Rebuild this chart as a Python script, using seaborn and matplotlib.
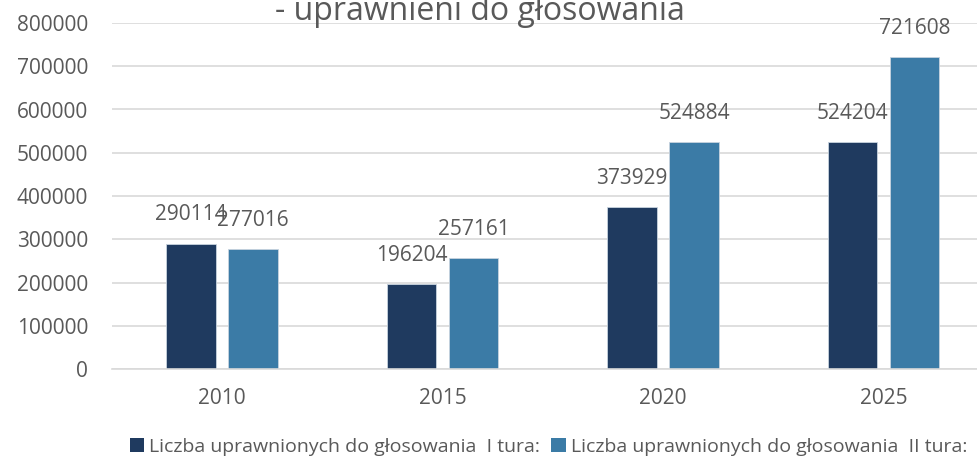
import matplotlib
matplotlib.use("Agg")
import matplotlib.pyplot as plt
import seaborn as sns
import pandas as pd
from matplotlib.patches import Patch

years = ["2010", "2015", "2020", "2025"]
series_names = ["Liczba uprawnionych do głosowania  I tura:",
                "Liczba uprawnionych do głosowania  II tura:"]
tura1 = [290114, 196204, 373929, 524204]
tura2 = [277016, 257161, 524884, 721608]
colors = ["#1F3A5F", "#3B7BA6"]
title_text = "- uprawnieni do głosowania"

df = pd.DataFrame({
    "rok": years * 2,
    "seria": [series_names[0]] * 4 + [series_names[1]] * 4,
    "wartosc": tura1 + tura2,
})

sns.set_theme(style="white")
plt.rcParams["font.family"] = ["Open Sans", "DejaVu Sans"]
grey = "#595959"

fig = plt.figure(figsize=(9.77, 4.65), dpi=100)
ax = fig.add_axes([111.75 / 977, 1 - 369 / 465, 882 / 977, (369 - 23) / 465])

sns.barplot(data=df, x="rok", y="wartosc", hue="seria", hue_order=series_names,
            palette=colors, saturation=1, width=0.5625, gap=0.207, ax=ax, legend=False,
            edgecolor="#c8d3de", linewidth=0.6)

ax.set_xlim(-0.5, 3.5)
ax.set_ylim(0, 800000)
ax.set_yticks(range(0, 800001, 100000))
ax.set_yticklabels([str(v) for v in range(0, 800001, 100000)])
ax.yaxis.grid(True, color="#d9d9d9", linewidth=1.2)
ax.set_axisbelow(True)
for s in ["top", "right", "left"]:
    ax.spines[s].set_visible(False)
ax.spines["bottom"].set_color("#d9d9d9")
ax.spines["bottom"].set_linewidth(1.2)
ax.tick_params(axis="both", length=0, labelsize=15, colors=grey)
ax.tick_params(axis="y", pad=17)
ax.tick_params(axis="x", pad=14)
ax.set_xlabel("")
ax.set_ylabel("")

for cont in ax.containers:
    ax.bar_label(cont, labels=[f"{int(b.get_height())}" for b in cont],
                 padding=13, fontsize=15, color=grey)

fig.text(480 / 977, 1 - 20 / 465, title_text, ha="center", va="baseline",
         fontsize=23, color=grey)

handles = [Patch(facecolor=c, edgecolor="none") for c in colors]
fig.legend(handles, series_names, loc="center left",
           bbox_to_anchor=(112 / 977, 1 - 447 / 465), ncol=2, frameon=False,
           handlelength=0.75, handleheight=0.75, handletextpad=0.25,
           columnspacing=0.6,
           prop={"family": ["Liberation Sans Narrow", "Open Sans", "DejaVu Sans"], "size": 14},
           labelcolor=grey)

fig.savefig("out.png", dpi=100)
